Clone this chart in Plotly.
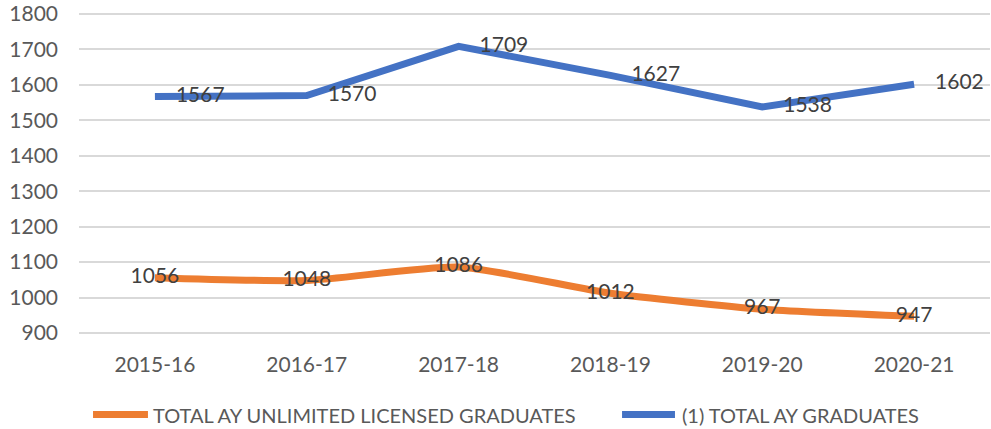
import plotly.graph_objects as go

years = ["2015-16", "2016-17", "2017-18", "2018-19", "2019-20", "2020-21"]
unlimited_licensed = [1056, 1048, 1086, 1012, 967, 947]
total_graduates = [1567, 1570, 1709, 1627, 1538, 1602]
y_ticks = [900, 1000, 1100, 1200, 1300, 1400, 1500, 1600, 1700, 1800]
series_names = ["TOTAL AY UNLIMITED LICENSED GRADUATES", "(1) TOTAL AY GRADUATES"]

ORANGE = "#ED7D31"
BLUE = "#4472C4"
FONT = "Lato, Open Sans, sans-serif"
LABEL_FONT = dict(family=FONT, size=21, color="#404040")

fig = go.Figure()

fig.add_trace(go.Scatter(
    x=years, y=unlimited_licensed, name=series_names[0],
    mode="lines+text", text=[str(v) for v in unlimited_licensed],
    textposition="middle center", textfont=LABEL_FONT, cliponaxis=False,
    line=dict(color=ORANGE, width=7, shape="spline", smoothing=0.6),
))
fig.add_trace(go.Scatter(
    x=years, y=total_graduates, name=series_names[1],
    mode="lines", line=dict(color=BLUE, width=7),
))
fig.add_trace(go.Scatter(
    x=years, y=total_graduates, showlegend=False,
    mode="markers+text", text=[str(v) for v in total_graduates],
    textposition="middle right", textfont=LABEL_FONT, cliponaxis=False,
    marker=dict(size=32, opacity=0, color=BLUE),
))

# custom legend (Excel-style long line keys)
legend_y = -0.251
for (x0, x1, xt), color, name in zip([(0.0154, 0.0757, 0.0790), (0.5961, 0.6542, 0.6597)],
                                     [ORANGE, BLUE], series_names):
    fig.add_shape(type="line", xref="paper", yref="paper", x0=x0, x1=x1,
                  y0=legend_y, y1=legend_y, line=dict(color=color, width=7))
    fig.add_annotation(xref="paper", yref="paper", x=xt, y=legend_y, text=name,
                       showarrow=False, xanchor="left", yanchor="middle",
                       font=dict(family=FONT, size=20, color="#595959"))

fig.update_layout(
    width=991, height=429,
    margin=dict(l=79, r=1, t=13, b=95, autoexpand=False),
    paper_bgcolor="white", plot_bgcolor="white",
    font=dict(family=FONT, size=21, color="#595959"),
    showlegend=False,
    hovermode=False,
)
fig.update_xaxes(type="category", range=[-0.5, 5.5], showgrid=False, zeroline=False,
                 showline=False, ticks="", tickfont=dict(size=21, color="#595959"),
                 ticklabelstandoff=16)
fig.update_yaxes(range=[897, 1803], tickvals=y_ticks, showgrid=True, gridcolor="#D9D9D9",
                 gridwidth=1.5, zeroline=False, showline=False, ticks="",
                 tickfont=dict(size=21, color="#595959"), ticklabelstandoff=20,
                 ticklabeloverflow="allow")

fig.write_html("out.html", config={"displayModeBar": False},
               post_script="document.body.style.margin='0';")
